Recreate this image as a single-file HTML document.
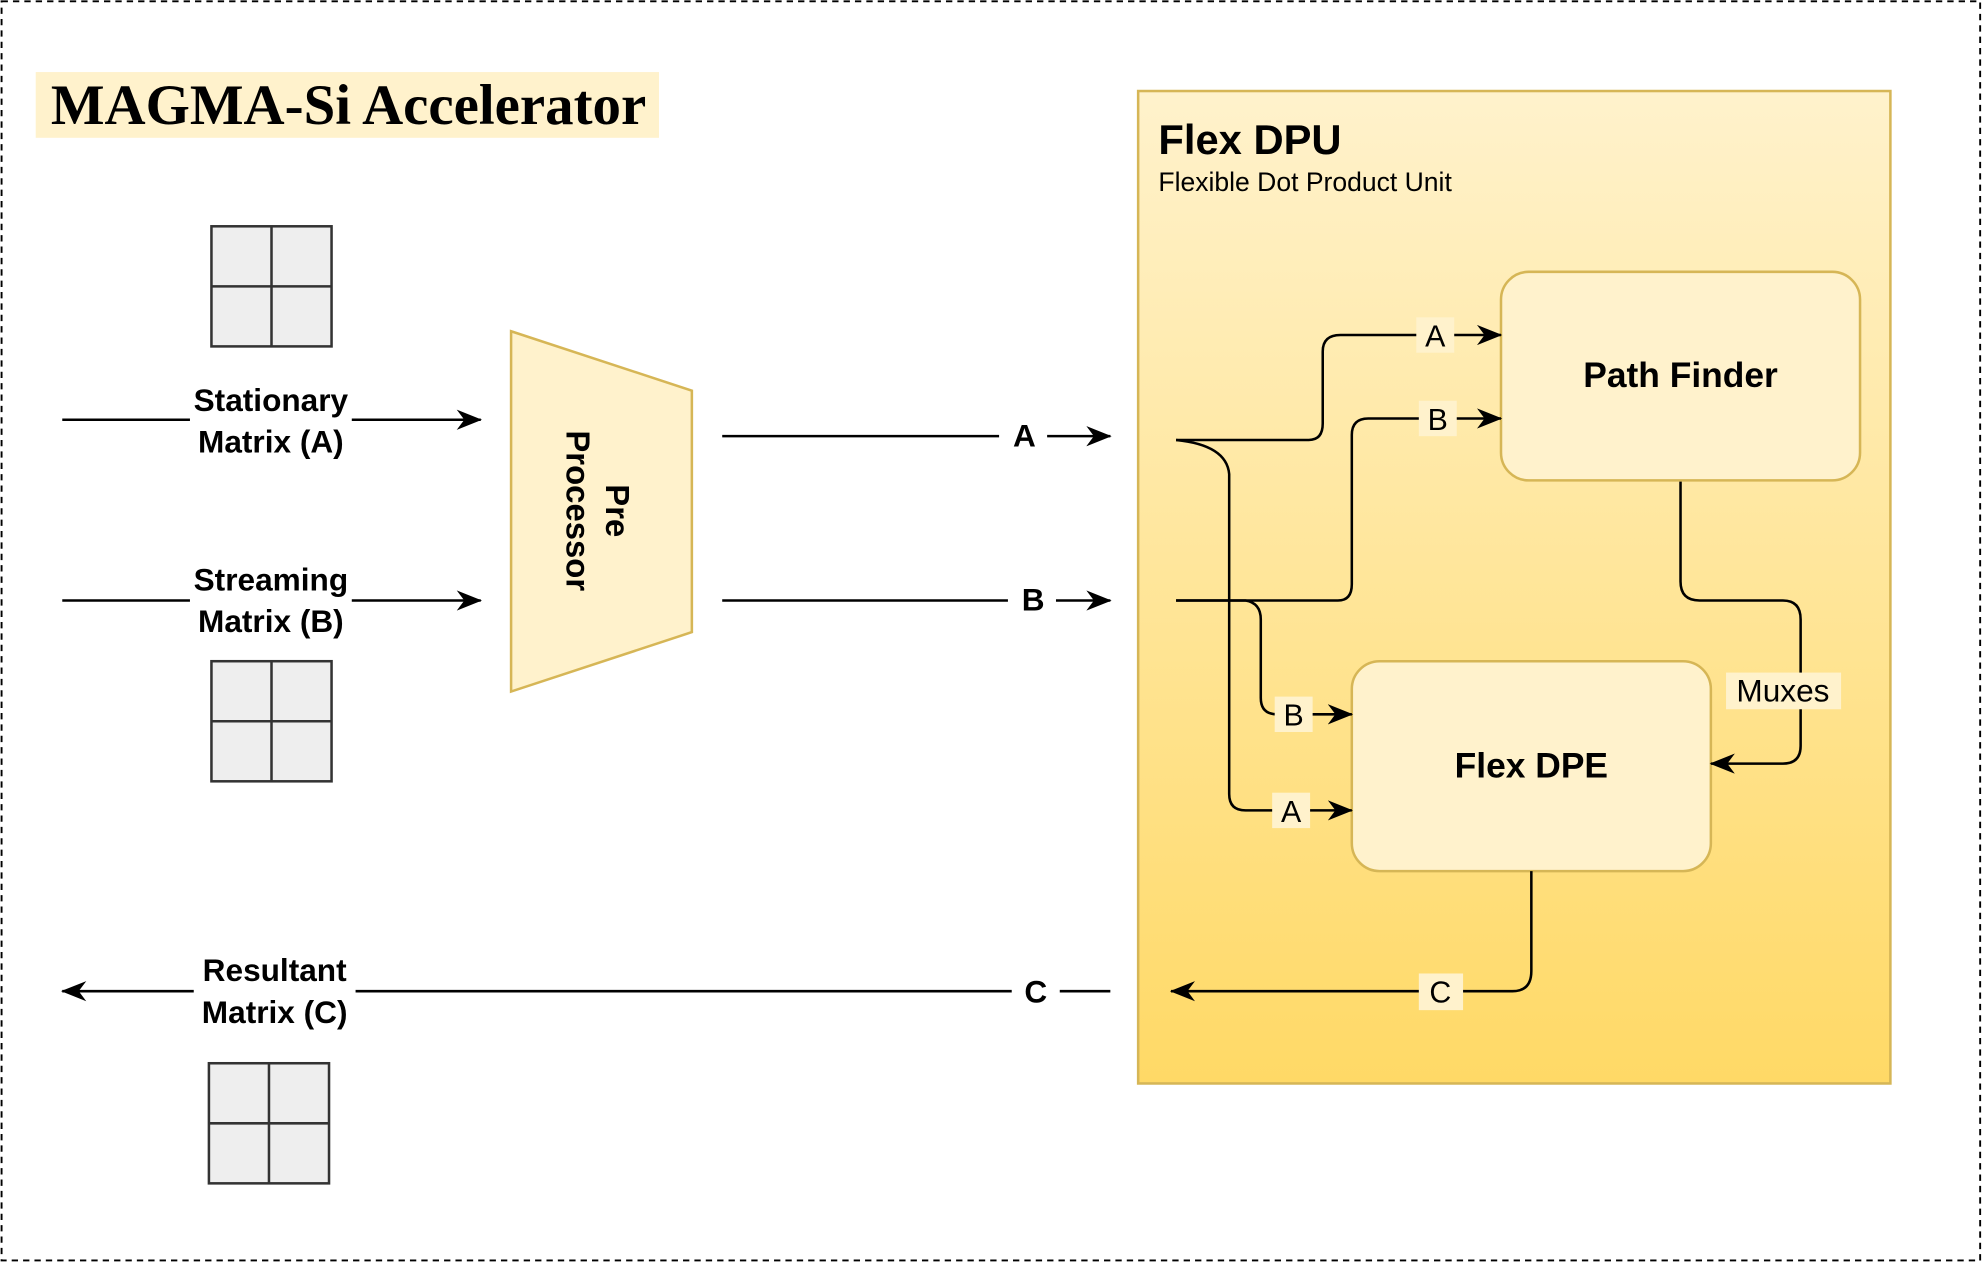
<!DOCTYPE html>
<html><head><meta charset="utf-8"><style>
html,body{margin:0;padding:0;background:#fff}
svg{display:block}
text{font-family:"Liberation Sans",Arial,sans-serif}
</style></head><body>
<svg width="1983" height="1263" viewBox="0 0 1568 999" xmlns="http://www.w3.org/2000/svg">
<defs>
<linearGradient id="g" x1="0" y1="0" x2="0" y2="1"><stop offset="0" stop-color="#fff2cc"/><stop offset="1" stop-color="#ffd966"/></linearGradient>
<marker id="ar" viewBox="0 0 20 16" refX="19" refY="8" markerWidth="20" markerHeight="16" orient="auto" markerUnits="userSpaceOnUse">
<path d="M0,0 L20,8 L0,16 L6,8 z" fill="#000"/></marker>
</defs>
<rect x="1" y="1" width="1565" height="996" fill="#fff" stroke="#000" stroke-width="1.5" stroke-dasharray="5,4"/>
<rect x="28" y="57" width="493" height="52" fill="#fff2cc"/>
<text x="40" y="98" font-weight="bold" font-size="45" style="font-family:'Liberation Serif',serif">MAGMA-Si Accelerator</text>

<g fill="#eeeeee" stroke="#333" stroke-width="2">
<rect x="167" y="179" width="95" height="95"/><path d="M214.5,179V274M167,226.5H262"/>
<rect x="167" y="523" width="95" height="95"/><path d="M214.5,523V618M167,570.5H262"/>
<rect x="165" y="841" width="95" height="95"/><path d="M212.5,841V936M165,888.5H260"/>
</g>

<g stroke="#000" stroke-width="2" fill="none">
<path d="M49,332H380" marker-end="url(#ar)"/>
<path d="M49,475H380" marker-end="url(#ar)"/>
<path d="M571,345H790M828,345H878" marker-end="url(#ar)"/>
<path d="M571,475H797M835,475H878" marker-end="url(#ar)"/>
<path d="M878,784H838M800,784H49" marker-end="url(#ar)"/>
</g>
<g font-weight="bold" font-size="25" text-anchor="middle">
<rect x="150" y="302" width="128" height="62" fill="#fff"/>
<text x="214" y="325">Stationary</text><text x="214" y="358">Matrix (A)</text>
<rect x="150" y="445" width="128" height="62" fill="#fff"/>
<text x="214" y="467">Streaming</text><text x="214" y="500">Matrix (B)</text>
<rect x="153" y="753" width="128" height="62" fill="#fff"/>
<text x="217" y="776">Resultant</text><text x="217" y="809">Matrix (C)</text>
<text x="810" y="353">A</text><text x="817" y="483">B</text><text x="819" y="793">C</text>
</g>

<polygon points="404,262 547,309 547,500 404,547" fill="#fff2cc" stroke="#d6b656" stroke-width="2"/>
<g transform="translate(470,404) rotate(90)" font-weight="bold" font-size="26" text-anchor="middle">
<text x="0" y="-9">Pre</text><text x="0" y="22">Processor</text>
</g>

<rect x="900" y="72" width="595" height="785" fill="url(#g)" stroke="#d6b656" stroke-width="2"/>
<text x="916" y="122" font-weight="bold" font-size="33">Flex DPU</text>
<text x="916" y="151" font-size="21">Flexible Dot Product Unit</text>

<rect x="1187" y="215" width="284" height="165" rx="22" fill="#fff2cc" stroke="#d6b656" stroke-width="2"/>
<text x="1329" y="306" font-weight="bold" font-size="28" text-anchor="middle">Path Finder</text>
<rect x="1069" y="523" width="284" height="166" rx="22" fill="#fff2cc" stroke="#d6b656" stroke-width="2"/>
<text x="1211" y="615" font-weight="bold" font-size="28" text-anchor="middle">Flex DPE</text>

<g stroke="#000" stroke-width="2" fill="none">
<path d="M930,348 Q970,352 972,375 L972,628 Q972,641 985,641 L1069,641" marker-end="url(#ar)"/>
<path d="M930,348 L1035,348 Q1046,348 1046,335 L1046,278 Q1046,265 1060,265 L1187,265" marker-end="url(#ar)"/>
<path d="M930,475 L1058,475 Q1069,475 1069,462 L1069,344 Q1069,331 1082,331 L1187,331" marker-end="url(#ar)"/>
<path d="M930,475 L985,475 Q997,477 997,490 L997,552 Q997,565 1010,565 L1069,565" marker-end="url(#ar)"/>
<path d="M1329,381 L1329,460 Q1329,475 1344,475 L1410,475 Q1424,475 1424,490 L1424,590 Q1424,604 1410,604 L1353,604" marker-end="url(#ar)"/>
<path d="M1211,689 L1211,768 Q1211,784 1196,784 L926,784" marker-end="url(#ar)"/>
</g>
<g font-size="24" text-anchor="middle">
<rect x="1120" y="251" width="30" height="28" fill="#fff2cc"/><text x="1135" y="274">A</text>
<rect x="1122" y="317" width="30" height="28" fill="#fff2cc"/><text x="1137" y="340">B</text>
<rect x="1008" y="551" width="30" height="28" fill="#fff2cc"/><text x="1023" y="574">B</text>
<rect x="1006" y="627" width="30" height="28" fill="#fff2cc"/><text x="1021" y="650">A</text>
<rect x="1365" y="532" width="91" height="29" fill="#fff2cc"/><text x="1410" y="555" font-size="25">Muxes</text>
<rect x="1122" y="770" width="35" height="29" fill="#fff2cc"/><text x="1139" y="793">C</text>
</g>
</svg>
</body></html>
